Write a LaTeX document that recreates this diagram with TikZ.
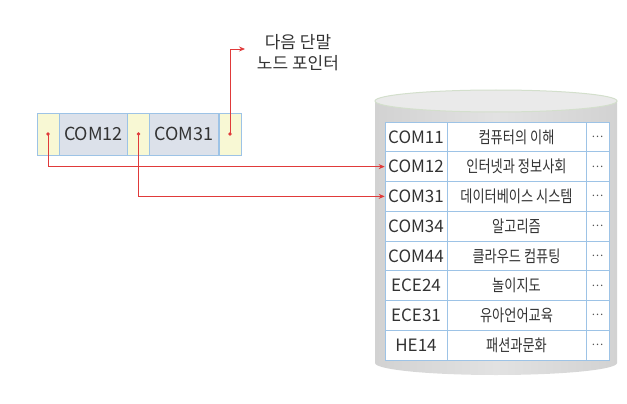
\documentclass[tikz,border=0pt]{standalone}
\usepackage{fontspec}
\setmainfont{Noto Sans CJK KR}
\newfontfamily\kr[FakeStretch=0.8]{Noto Sans CJK KR}
\usetikzlibrary{arrows.meta}
\definecolor{ptrY}{HTML}{F8F8D4}
\definecolor{keyG}{HTML}{DCE1EA}
\definecolor{cellB}{HTML}{9DC3E6}
\definecolor{arrR}{HTML}{E03A3A}
\definecolor{txt}{HTML}{333333}
\definecolor{cylL}{HTML}{D2D2D2}
\definecolor{cylM}{HTML}{E2E2E2}
\definecolor{cylT}{HTML}{EAEAEA}
\definecolor{cylE}{HTML}{D3DFCC}
\begin{document}
\begin{tikzpicture}[x=1pt,y=-1pt,
  ptrcell/.style={draw=cellB,fill=ptrY,line width=0.8pt,minimum width=22pt,minimum height=42pt,inner sep=0pt},
  keyrec/.style={draw=cellB,fill=keyG,line width=0.8pt,minimum width=69pt,minimum height=42pt,inner sep=0pt,text=txt,font=\fontsize{18}{20}\selectfont},
  keycell/.style={draw=cellB,line width=0.6pt,minimum width=62pt,minimum height=29.75pt,inner sep=0pt,text=txt,font=\fontsize{17}{19}\selectfont},
  namecell/.style={draw=cellB,line width=0.6pt,minimum width=139pt,minimum height=29.75pt,inner sep=0pt,text=txt,font=\kr\fontsize{16.5}{18}\selectfont},
  dotcell/.style={draw=cellB,line width=0.6pt,minimum width=23pt,minimum height=29.75pt,inner sep=0pt,text=txt!85,font=\fontsize{11}{12}\selectfont},
  ptr/.style={draw=arrR,line width=0.8pt,-{Stealth[length=6pt,width=5pt]}},
  lbl/.style={align=center,text=txt,font=\fontsize{17}{21}\selectfont}]
\useasboundingbox (0,0) rectangle (627,404);
% cylinder
\shade[left color=cylL,right color=cylL,middle color=cylM]
  (375,101) -- (375,363) arc[start angle=180,end angle=360,x radius=121pt,y radius=12pt] -- (617,101) -- cycle;
\filldraw[fill=cylT,draw=cylE,line width=1pt] (496,101) ellipse[x radius=121pt,y radius=11pt];
% table
\fill[white] (385,122) rectangle (609,360);
\foreach \k/\n [count=\i] in {COM11/컴퓨터의 이해,COM12/인터넷과 정보사회,COM31/데이터베이스 시스템,COM34/알고리즘,COM44/클라우드 컴퓨팅,ECE24/놀이지도,ECE31/유아언어교육,HE14/패션과문화}{
  \node[keycell] (k\i) at (416,{122+29.75*(\i-0.5)}) {\k};
  \node[namecell] (n\i) at (516.5,{122+29.75*(\i-0.5)}) {\n};
  \node[dotcell] (d\i) at (597.5,{122+29.75*(\i-0.5)}) {⋯};
}
\draw[cellB,line width=1pt] (385,122) rectangle (609,360);
% record
\node[ptrcell] (p1) at (48,134) {};
\node[keyrec] (c1) at (93.5,134) {COM12};
\node[ptrcell] (p2) at (138.5,134) {};
\node[keyrec] (c2) at (184,134) {COM31};
\node[ptrcell] (p3) at (230,134) {};
% label
\node[lbl] (lab) at (298,53) {다음 단말\\노드 포인터};
\coordinate (tip) at (245,49);
% pointers
\draw[ptr] (p1.center) |- (k2.west);
\draw[ptr] (p2.center) |- (k3.west);
\draw[ptr] (p3.center) |- (tip);
\foreach \p in {p1,p2,p3} \fill[arrR] (\p.center) circle (1.8pt);
\end{tikzpicture}
\end{document}
